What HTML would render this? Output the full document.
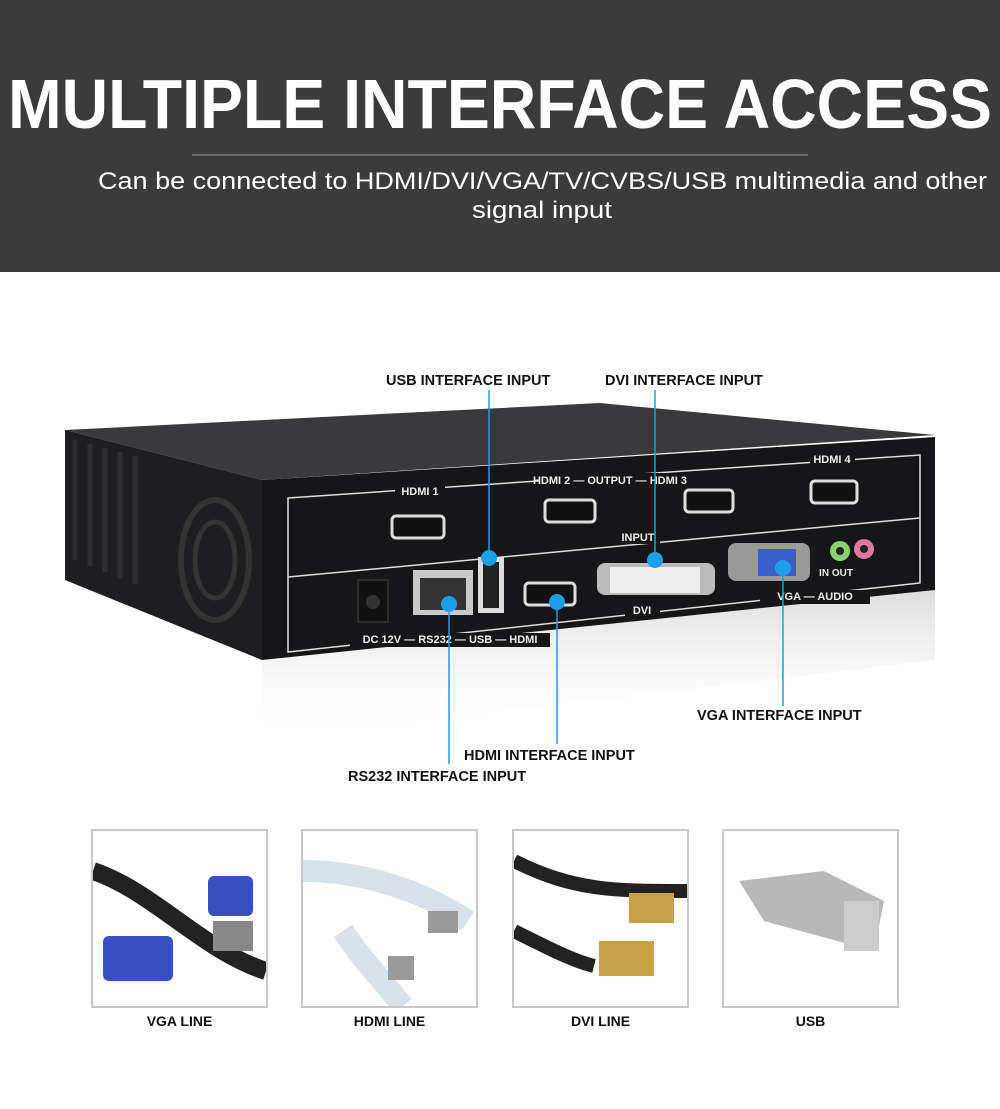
<!DOCTYPE html>
<html><head><meta charset="utf-8"><style>
body{margin:0;width:1000px;height:1109px;background:#fff;font-family:"Liberation Sans",sans-serif;overflow:hidden}
.hdr{position:absolute;left:0;top:0;width:1000px;height:272px;background:#3b3b3b}
.box{position:absolute;top:829px;width:173px;height:175px;border:2px solid #c8c8c8;background:#fff}
.lab{position:absolute;top:1013px;width:177px;text-align:center;font-weight:bold;font-size:14px;color:#111}
.cl{position:absolute;font-weight:bold;font-size:14.5px;color:#111}
</style></head><body>
<div class="hdr"></div>
<svg style="position:absolute;left:0;top:0" width="1000" height="272">
<text x="8" y="128" font-size="70" font-weight="bold" fill="#fff" font-family="Liberation Sans" textLength="984" lengthAdjust="spacingAndGlyphs">MULTIPLE INTERFACE ACCESS</text>
<line x1="192" y1="155" x2="808" y2="155" stroke="#9a9a9a" stroke-width="1"/>
<text x="98" y="189" font-size="24" fill="#fff" font-family="Liberation Sans" textLength="889" lengthAdjust="spacingAndGlyphs">Can be connected to HDMI/DVI/VGA/TV/CVBS/USB multimedia and other</text>
<text x="472" y="218" font-size="24" fill="#fff" font-family="Liberation Sans" textLength="140" lengthAdjust="spacingAndGlyphs">signal input</text>
</svg>

<svg style="position:absolute;left:0;top:0" width="1000" height="800">
<defs><linearGradient id="r" x1="0" y1="0" x2="0" y2="1"><stop offset="0" stop-color="#bbb" stop-opacity=".5"/><stop offset="1" stop-color="#fff" stop-opacity="0"/></linearGradient></defs>
<polygon points="262,660 935,590 935,660 262,740" fill="url(#r)"/>
<polygon points="65,430 600,403 935,435 262,480" fill="#3a3a3c"/>
<polygon points="65,430 262,480 262,660 65,580" fill="#1e1e20"/>
<polygon points="262,480 935,437 935,590 262,660" fill="#161618"/>
<g stroke="#2e2e30" stroke-width="5">
<line x1="75" y1="440" x2="75" y2="560"/><line x1="90" y1="444" x2="90" y2="566"/><line x1="105" y1="448" x2="105" y2="572"/><line x1="120" y1="452" x2="120" y2="578"/><line x1="135" y1="456" x2="135" y2="584"/>
</g>
<ellipse cx="215" cy="560" rx="34" ry="60" fill="none" stroke="#333" stroke-width="6"/>
<ellipse cx="215" cy="560" rx="20" ry="38" fill="none" stroke="#333" stroke-width="5"/>
<g fill="none" stroke="#ddd" stroke-width="1.5">
<polygon points="288,498 920,455 920,583 288,652"/>
<line x1="288" y1="577" x2="920" y2="518"/>
</g>
<g fill="#eee" font-size="11" font-weight="bold" text-anchor="middle">
<rect x="395" y="484" width="50" height="14" fill="#161618"/><text x="420" y="495">HDMI 1</text>
<rect x="540" y="473" width="140" height="14" fill="#161618"/><text x="610" y="484">HDMI 2 — OUTPUT — HDMI 3</text>
<rect x="810" y="452" width="45" height="14" fill="#161618"/><text x="832" y="463">HDMI 4</text>
<rect x="615" y="530" width="45" height="14" fill="#161618"/><text x="638" y="541">INPUT</text>
<rect x="350" y="633" width="200" height="14" fill="#161618"/><text x="450" y="643">DC 12V — RS232 — USB — HDMI</text>
<rect x="625" y="603" width="35" height="14" fill="#161618"/><text x="642" y="614">DVI</text>
<rect x="760" y="590" width="110" height="14" fill="#161618"/><text x="815" y="600">VGA — AUDIO</text>
<text x="836" y="576" font-size="10">IN  OUT</text>
</g>
<g fill="#111" stroke="#ddd" stroke-width="3">
<rect x="392" y="516" width="52" height="22" rx="4"/><rect x="545" y="500" width="50" height="22" rx="4"/>
<rect x="685" y="490" width="48" height="22" rx="4"/><rect x="811" y="481" width="46" height="22" rx="4"/>
<rect x="525" y="583" width="50" height="22" rx="4"/>
</g>
<rect x="358" y="580" width="30" height="42" fill="#111" stroke="#444"/><circle cx="373" cy="602" r="7" fill="#333"/>
<rect x="413" y="570" width="60" height="45" fill="#c9c9c9"/><rect x="420" y="578" width="46" height="32" fill="#333"/>
<rect x="478" y="557" width="26" height="56" fill="#ddd"/><rect x="483" y="562" width="16" height="46" fill="#222"/>
<rect x="597" y="563" width="118" height="32" rx="8" fill="#bbb"/><rect x="610" y="567" width="90" height="26" fill="#eee"/>
<rect x="728" y="543" width="82" height="38" rx="8" fill="#999"/><rect x="758" y="549" width="38" height="27" fill="#3a5fc8"/>
<circle cx="840" cy="551" r="10" fill="#8bd06a"/><circle cx="840" cy="551" r="4" fill="#222"/>
<circle cx="864" cy="549" r="10" fill="#e077a0"/><circle cx="864" cy="549" r="4" fill="#222"/>
<g stroke="#1d9ee8" stroke-width="1.5">
<line x1="489" y1="390" x2="489" y2="558"/><line x1="655" y1="390" x2="655" y2="560"/>
<line x1="449" y1="604" x2="449" y2="764"/><line x1="557" y1="600" x2="557" y2="744"/>
<line x1="783" y1="566" x2="783" y2="706"/>
</g>
<g fill="#1d9ee8"><circle cx="489" cy="558" r="8"/><circle cx="655" cy="560" r="8"/><circle cx="449" cy="604" r="8"/><circle cx="557" cy="602" r="8"/><circle cx="783" cy="568" r="8"/></g>
</svg>
<div class="cl" style="left:386px;top:373px">USB INTERFACE INPUT</div>
<div class="cl" style="left:605px;top:373px">DVI INTERFACE INPUT</div>
<div class="cl" style="left:697px;top:708px">VGA INTERFACE INPUT</div>
<div class="cl" style="left:464px;top:748px">HDMI INTERFACE INPUT</div>
<div class="cl" style="left:348px;top:769px">RS232 INTERFACE INPUT</div>

<div class="box" style="left:91px"><svg width="173" height="175"><path d="M0,40 C60,60 110,120 173,140" stroke="#222" stroke-width="18" fill="none"/><rect x="10" y="105" width="70" height="45" rx="6" fill="#3850c0"/><rect x="115" y="45" width="45" height="40" rx="6" fill="#3850c0"/><rect x="120" y="90" width="40" height="30" fill="#888"/></svg></div>
<div class="box" style="left:301px"><svg width="173" height="175"><path d="M0,40 C60,40 120,60 165,90" stroke="#d8e2ec" stroke-width="22" fill="none"/><path d="M40,100 C60,130 80,150 100,175" stroke="#d8e2ec" stroke-width="22" fill="none"/><rect x="125" y="80" width="30" height="22" fill="#999"/><rect x="85" y="125" width="26" height="24" fill="#999"/></svg></div>
<div class="box" style="left:512px"><svg width="173" height="175"><path d="M0,30 C60,60 100,60 173,60" stroke="#222" stroke-width="14" fill="none"/><path d="M0,100 C40,120 60,130 80,135" stroke="#222" stroke-width="14" fill="none"/><rect x="85" y="110" width="55" height="35" fill="#c6a14a"/><rect x="115" y="62" width="45" height="30" fill="#c6a14a"/></svg></div>
<div class="box" style="left:722px"><svg width="173" height="175"><path d="M15,50 L100,40 L160,70 L150,120 L40,90 Z" fill="#b8b8b8"/><rect x="120" y="70" width="35" height="50" fill="#ccc"/></svg></div>
<div class="lab" style="left:91px">VGA LINE</div>
<div class="lab" style="left:301px">HDMI LINE</div>
<div class="lab" style="left:512px">DVI LINE</div>
<div class="lab" style="left:722px">USB</div>
</body></html>
